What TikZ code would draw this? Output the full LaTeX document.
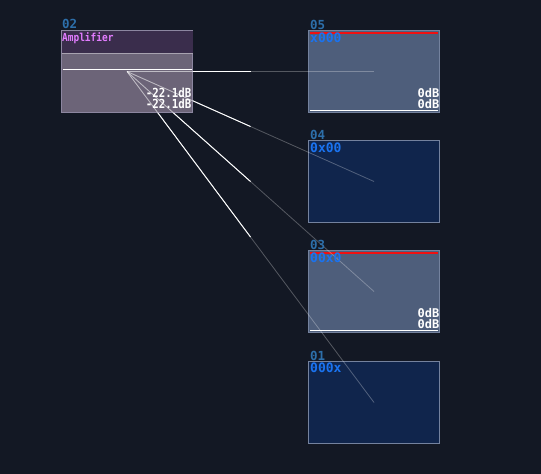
\documentclass[tikz,border=0pt]{standalone}
\usepackage{fontspec}
\usetikzlibrary{calc}
\newfontfamily\pix{DejaVu Sans Mono}
\newfontfamily\pixnarrow{DejaVu Sans Mono}[FakeStretch=0.86]
\definecolor{bgc}{HTML}{131824}
\definecolor{ampfill}{HTML}{6C6478}
\definecolor{amptitle}{HTML}{3A2D4C}
\definecolor{ampborder}{HTML}{8C86A0}
\definecolor{ampsep}{HTML}{A8A2B0}
\definecolor{boxlight}{HTML}{4E5E7B}
\definecolor{boxdark}{HTML}{10254C}
\definecolor{boxborder}{HTML}{74829E}
\definecolor{idblue}{HTML}{2D6FAA}
\definecolor{txtblue}{HTML}{1A73F0}
\definecolor{titleviolet}{HTML}{E27CFF}
\definecolor{redbar}{HTML}{F01010}
\tikzset{
  modbox/.style={draw=boxborder, line width=1pt, minimum width=131.5pt, minimum height=82.5pt, inner sep=0pt, outer sep=0pt},
  idlabel/.style={text=idblue, font=\pix\bfseries\fontsize{12.5}{12}\selectfont, inner sep=0pt, anchor=base west},
  addr/.style={text=txtblue, font=\pix\bfseries\fontsize{13}{12}\selectfont, inner sep=0pt, anchor=base west},
  level/.style={text=white, font=\pix\bfseries\fontsize{12}{12}\selectfont, inner sep=0pt, anchor=base east},
  amplevel/.style={text=white, font=\pixnarrow\bfseries\fontsize{12.5}{12}\selectfont, inner sep=0pt, anchor=base east},
  gline/.style={draw=white, draw opacity=0.28, line width=0.8pt},
  wline/.style={draw=white, line width=0.9pt},
  winner/.style={draw=white, draw opacity=0.4, line width=0.8pt},
}
\begin{document}
\begin{tikzpicture}[x=1pt, y=-1pt]
\fill[bgc] (0,0) rectangle (541,474);
\useasboundingbox (0,0) rectangle (541,474);
% amplifier
\node[modbox, draw=ampborder, fill=ampfill] (amp) at (127,71.5) {};
\fill[amptitle] (61.5,30.5) rectangle (192.5,53);
\draw[ampsep, line width=1pt] (61.5,53.5) -- (192.5,53.5);
\draw[white, line width=1pt] (62.5,69.3) -- (191.5,69.3);
\node[idlabel] (l02) at (62,28.5) {02};
\node[text=titleviolet, font=\pixnarrow\bfseries\fontsize{11}{12}\selectfont, inner sep=0pt, anchor=base west] (title) at (62,41.5) {Amplifier};
% targets
\node[modbox, fill=boxlight] (n05) at (374,71.5) {};
\node[modbox, fill=boxdark] (n04) at (374,181.5) {};
\node[modbox, fill=boxlight] (n03) at (374,291.5) {};
\node[modbox, fill=boxdark] (n01) at (374,402.5) {};
\foreach \n in {n05,n03}{
  \draw[redbar, line width=2pt] ([xshift=2pt,yshift=-2.5pt]\n.north west) -- ([xshift=-2pt,yshift=-2.5pt]\n.north east);
  \draw[white, line width=1pt] ([xshift=2pt,yshift=2pt]\n.south west) -- ([xshift=-2pt,yshift=2pt]\n.south east);
}
% connectors
\foreach \t in {n05,n04,n03,n01}{
  \draw[gline] (amp.center) -- (\t.center);
  \draw[winner] (amp.center) -- ($(amp.center)!0.5!(\t.center)$);
}
\begin{scope}
\clip (0,0) rectangle (541,474) (193,30) rectangle (61,113);
\foreach \t in {n05,n04,n03,n01}{
  \draw[wline] (amp.center) -- ($(amp.center)!0.5!(\t.center)$);
}
\end{scope}
% texts
\node[amplevel] (a1) at (191.5,97.5) {-22.1dB};
\node[amplevel] (a2) at (191.5,108.8) {-22.1dB};
\node[idlabel] (l05) at (310,29) {05};
\node[idlabel] (l04) at (310,139) {04};
\node[idlabel] (l03) at (310,249) {03};
\node[idlabel] (l01) at (310,360) {01};
\node[addr] (x05) at (310,42) {x000};
\node[addr] (x04) at (310,152) {0x00};
\node[addr] (x03) at (310,262) {00x0};
\node[addr] (x01) at (310,372.5) {000x};
\node[level] (d05a) at (439.5,97.5) {0dB};
\node[level] (d05b) at (439.5,108.8) {0dB};
\node[level] (d03a) at (439.5,317.5) {0dB};
\node[level] (d03b) at (439.5,328.8) {0dB};
\end{tikzpicture}
\end{document}
